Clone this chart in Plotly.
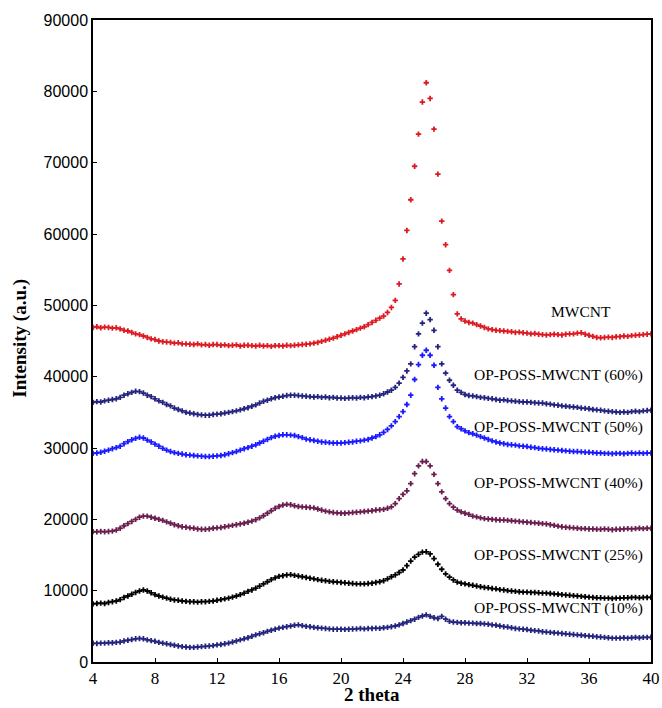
import plotly.graph_objects as go

# 2-theta sampling grid (degrees), step 0.25 from 4 to 40
two_theta = [4 + 0.25 * i for i in range(145)]

mwcnt = [
    46900, 47000, 46850, 46950, 46900, 46800, 46850, 46700,
    46500, 46400, 46200, 46000, 45900, 45700, 45500, 45300,
    45200, 45000, 44900, 44850, 44800, 44700, 44750, 44600,
    44600, 44550, 44500, 44600, 44450, 44500, 44400, 44500,
    44500, 44400, 44450, 44350, 44400, 44450, 44300, 44400,
    44400, 44350, 44300, 44400, 44300, 44350, 44250, 44350,
    44350, 44300, 44400, 44350, 44400, 44450, 44500, 44550,
    44600, 44700, 44800, 44950, 45100, 45250, 45400, 45600,
    45800, 46000, 46200, 46400, 46600, 46800, 47000, 47300,
    47600, 47900, 48200, 48500, 49000, 49700, 50700, 53000,
    56500, 60500, 64800, 69500, 74000, 78500, 81200, 79000,
    74700, 68400, 61800, 58500, 54900, 51500, 48800, 48100,
    47800, 47600, 47500, 47300, 47100, 46900, 46700, 46600,
    46500, 46450, 46400, 46350, 46300, 46200, 46250, 46150,
    46100, 46000, 46050, 45950, 45900, 45850, 45900, 45950,
    45900, 45850, 45950, 46000, 46000, 46100, 46150, 45950,
    45800, 45650, 45500, 45450, 45500, 45550, 45500, 45600,
    45600, 45700, 45650, 45750, 45800, 45850, 45900, 45950,
    46000,
]

poss_60 = [
    36400, 36500, 36450, 36600, 36700, 36800, 36900, 37100,
    37400, 37600, 37800, 37950, 37900, 37700, 37400, 37200,
    36900, 36600, 36400, 36100, 35900, 35600, 35400, 35200,
    35000, 34900, 34800, 34700, 34650, 34600, 34600, 34700,
    34750, 34800, 34900, 35000, 35100, 35200, 35350, 35500,
    35650, 35850, 36050, 36300, 36550, 36700, 36900, 37050,
    37150, 37250, 37350, 37400, 37400, 37350, 37300, 37250,
    37200, 37150, 37200, 37100, 37150, 37050, 37100, 37000,
    37000, 36950, 37000, 37050, 37000, 37100, 37050, 37150,
    37200, 37300, 37400, 37600, 37850, 38100, 38500, 39100,
    39900, 40800, 41800, 44200, 46000, 47500, 48900, 48000,
    46500, 44200, 41800, 40500, 39500, 38800, 38100, 37800,
    37500, 37350, 37300, 37200, 37100, 37050, 36950, 36900,
    36800, 36700, 36750, 36650, 36600, 36550, 36500, 36450,
    36450, 36400, 36350, 36300, 36300, 36200, 36150, 36050,
    36000, 35900, 35850, 35800, 35750, 35700, 35600, 35550,
    35500, 35400, 35350, 35300, 35200, 35150, 35100, 35050,
    35000, 35050, 35000, 35100, 35150, 35100, 35200, 35250,
    35300,
]

poss_50 = [
    29250, 29300, 29400, 29550, 29700, 29900, 30050, 30250,
    30600, 30900, 31150, 31350, 31500, 31400, 31100, 30850,
    30550, 30250, 29950, 29700, 29500, 29350, 29250, 29150,
    29050, 29000, 28950, 28900, 28850, 28800, 28800, 28850,
    28900, 28950, 29050, 29200, 29350, 29500, 29700, 29900,
    30050, 30250, 30450, 30700, 30950, 31200, 31450, 31650,
    31750, 31850, 31850, 31800, 31750, 31600, 31450, 31250,
    31150, 31050, 30950, 30850, 30800, 30750, 30700, 30700,
    30700, 30750, 30800, 30850, 30950, 31000, 31100, 31200,
    31400, 31600, 31850, 32200, 32600, 33100, 33700, 34400,
    35100, 36100, 37400, 39600, 41700, 43000, 43700, 43000,
    41600, 38500, 36900, 35600, 34400, 33700, 33000, 32700,
    32400, 32150, 32000, 31800, 31600, 31400, 31200, 31000,
    30850, 30700, 30600, 30500, 30450, 30400, 30300, 30250,
    30200, 30100, 30050, 29950, 29900, 29850, 29800, 29750,
    29700, 29650, 29600, 29550, 29500, 29500, 29450, 29400,
    29400, 29350, 29300, 29300, 29250, 29250, 29200, 29250,
    29250, 29200, 29250, 29300, 29250, 29300, 29250, 29300,
    29300,
]

poss_40 = [
    18270, 18250, 18300, 18250, 18300, 18350, 18500, 18750,
    19100, 19400, 19700, 20000, 20300, 20450, 20450, 20300,
    20150, 20000, 19850, 19650, 19450, 19250, 19100, 18950,
    18900, 18800, 18750, 18650, 18600, 18600, 18650, 18750,
    18800, 18850, 18950, 19050, 19150, 19250, 19350, 19450,
    19600, 19750, 19950, 20200, 20500, 20850, 21200, 21550,
    21800, 22000, 22100, 22050, 21900, 21800, 21750, 21700,
    21650, 21600, 21450, 21300, 21150, 21050, 20950, 20900,
    20850, 20850, 20900, 20950, 21000, 21050, 21100, 21150,
    21200, 21300, 21350, 21400, 21550, 21750, 22200, 22900,
    23500, 24000, 25000, 26400, 27500, 28100, 28100, 27500,
    26300, 25000, 23850, 22900, 22200, 21700, 21300, 21050,
    20850, 20700, 20450, 20350, 20200, 20100, 20050, 20000,
    19950, 19900, 19900, 19850, 19800, 19750, 19700, 19650,
    19600, 19550, 19500, 19450, 19400, 19350, 19250, 19150,
    19050, 18950, 18900, 18850, 18800, 18750, 18700, 18700,
    18650, 18650, 18600, 18600, 18650, 18600, 18550, 18600,
    18600, 18650, 18700, 18650, 18700, 18750, 18700, 18750,
    18740,
]

poss_25 = [
    8150, 8200, 8250, 8200, 8350, 8450, 8550, 8750,
    9050, 9250, 9500, 9750, 9950, 10100, 9950, 9700,
    9450, 9250, 9100, 8950, 8800, 8700, 8650, 8550,
    8500, 8450, 8450, 8400, 8450, 8450, 8500, 8550,
    8650, 8750, 8850, 8950, 9100, 9250, 9450, 9650,
    9900, 10100, 10350, 10650, 10950, 11250, 11550, 11800,
    12000, 12100, 12200, 12250, 12150, 12050, 11950, 11850,
    11750, 11650, 11550, 11450, 11400, 11300, 11250, 11200,
    11150, 11100, 11050, 11000, 10950, 10950, 10950, 11000,
    11050, 11150, 11250, 11400, 11650, 11950, 12200, 12550,
    12900, 13500, 14150, 14700, 15100, 15400, 15450, 15150,
    14500, 13700, 13000, 12350, 11900, 11500, 11200, 11050,
    10950, 10850, 10750, 10650, 10550, 10450, 10400, 10300,
    10250, 10150, 10100, 10000, 9950, 9900, 9850, 9800,
    9800, 9750, 9750, 9700, 9650, 9650, 9600, 9550,
    9500, 9450, 9400, 9350, 9300, 9250, 9200, 9150,
    9100, 9050, 9000, 9000, 8950, 8950, 8900, 8950,
    8950, 9000, 9000, 9050, 9050, 9000, 9050, 9050,
    9070,
]

poss_10 = [
    2620, 2600, 2650, 2650, 2700, 2700, 2750, 2800,
    2950, 3050, 3150, 3250, 3300, 3250, 3100, 3000,
    2900, 2750, 2650, 2550, 2450, 2350, 2250, 2150,
    2100, 2050, 2050, 2100, 2150, 2200, 2250, 2300,
    2400, 2450, 2550, 2650, 2800, 2950, 3100, 3250,
    3400, 3600, 3800, 3950, 4100, 4300, 4450, 4600,
    4750, 4850, 4950, 5050, 5150, 5200, 5100, 5000,
    4950, 4850, 4800, 4750, 4700, 4650, 4600, 4600,
    4600, 4580, 4600, 4620, 4650, 4700, 4650, 4700,
    4700, 4750, 4720, 4800, 4850, 4950, 5050, 5200,
    5400, 5600, 5800, 6000, 6250, 6450, 6600, 6400,
    6200, 6100, 6400, 6000, 5700, 5600, 5550, 5500,
    5500, 5450, 5450, 5400, 5400, 5350, 5300, 5200,
    5150, 5050, 4950, 4900, 4800, 4700, 4650, 4600,
    4550, 4450, 4400, 4350, 4250, 4200, 4150, 4100,
    4050, 4000, 3950, 3900, 3850, 3800, 3750, 3700,
    3650, 3600, 3550, 3500, 3450, 3400, 3350, 3350,
    3350, 3400, 3350, 3400, 3450, 3400, 3450, 3450,
    3460,
]

series_names = ["MWCNT", "OP-POSS-MWCNT (60%)", "OP-POSS-MWCNT (50%)",
                "OP-POSS-MWCNT (40%)", "OP-POSS-MWCNT (25%)", "OP-POSS-MWCNT (10%)"]
series_values = [mwcnt, poss_60, poss_50, poss_40, poss_25, poss_10]
series_colors = ["#dc1a22", "#24247e", "#1a1aff", "#6a1e4e", "#000000", "#24247e"]

x_ticks = [4, 8, 12, 16, 20, 24, 28, 32, 36, 40]
y_ticks = [0, 10000, 20000, 30000, 40000, 50000, 60000, 70000, 80000, 90000]

SERIF = "Liberation Serif, Times New Roman, serif"

fig = go.Figure()
for name, vals, col in zip(series_names, series_values, series_colors):
    fig.add_trace(go.Scatter(
        x=two_theta, y=vals, mode="markers", name=name,
        marker=dict(symbol="cross", size=4.5, color=col, line=dict(width=0)),
        showlegend=False,
    ))

label_font = dict(family=SERIF, size=15.5, color="black")
# series labels (positions in data coordinates)
fig.add_annotation(x=35.5, y=49070, text="MWCNT", showarrow=False,
                   xanchor="center", yanchor="middle", font=label_font)
label_y = [40240, 32950, 25100, 15000, 7570]
for name, yy in zip(series_names[1:], label_y):
    fig.add_annotation(x=39.62, y=yy, text=name, showarrow=False,
                       xanchor="right", yanchor="middle", font=label_font)

# axis titles
fig.add_annotation(xref="paper", yref="paper", x=0.5, y=-0.05, text="<b>2 theta</b>",
                   showarrow=False, xanchor="center", yanchor="middle",
                   font=dict(family=SERIF, size=19, color="black"))
fig.add_annotation(xref="paper", yref="paper", x=-0.131, y=0.505, text="<b>Intensity (a.u.)</b>",
                   showarrow=False, xanchor="center", yanchor="middle", textangle=-90,
                   font=dict(family=SERIF, size=19, color="black"))

axis_common = dict(
    showline=True, linecolor="black", linewidth=1.5, mirror=True,
    ticks="inside", ticklen=4, tickwidth=1, tickcolor="black",
    showgrid=False, zeroline=False, automargin=False,
)
fig.update_xaxes(
    range=[4, 40], tickvals=x_ticks, ticktext=[str(v) for v in x_ticks],
    tickfont=dict(family=SERIF, size=17, color="black"),
    **axis_common,
)
fig.update_yaxes(
    range=[0, 90000], tickvals=y_ticks, ticktext=[str(v) for v in y_ticks],
    tickfont=dict(family="Liberation Sans, Arial, sans-serif", size=16, color="black"),
    **axis_common,
)
fig.update_layout(
    width=662, height=708,
    margin=dict(l=93, r=11, t=20, b=46),
    plot_bgcolor="white", paper_bgcolor="white",
    showlegend=False,
)
fig.write_html("out.html")
